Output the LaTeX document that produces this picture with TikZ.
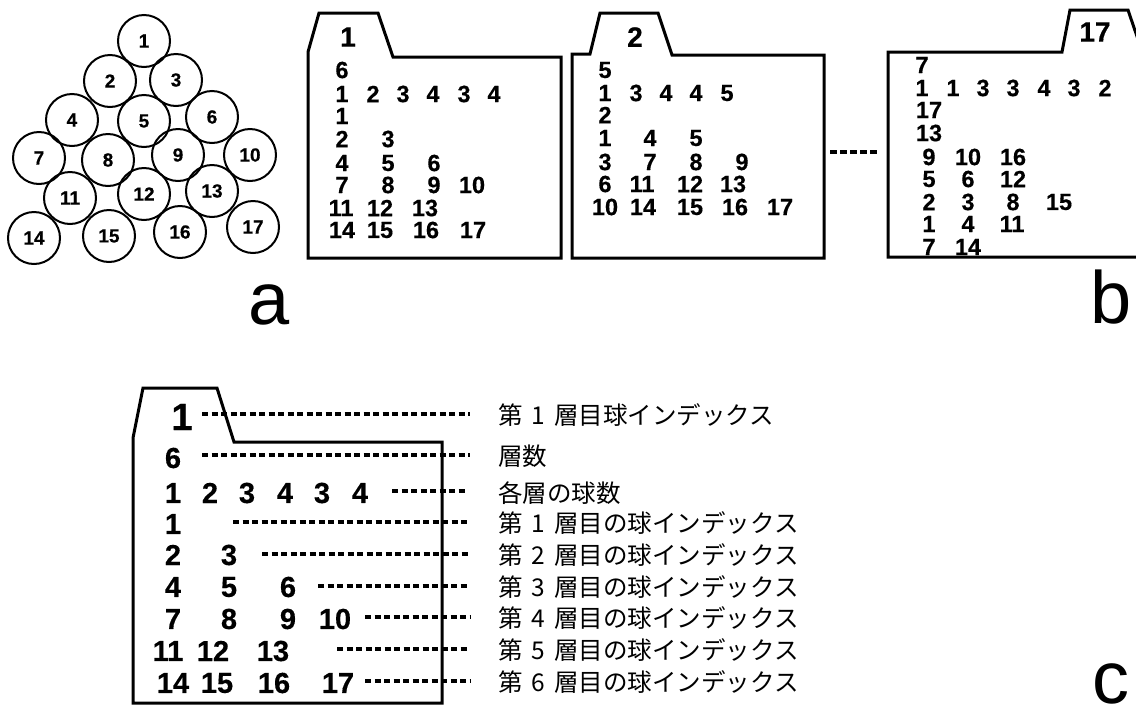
\documentclass[tikz,border=0pt]{standalone}
\usepackage{fontspec}
\setmainfont{Liberation Sans}
\newfontfamily\numfont{Liberation Sans Bold}[FakeBold=0.4]
\newfontfamily\jp{Noto Sans CJK JP}
\newcommand{\jsp}{\hspace{9pt}}
\begin{document}
\begin{tikzpicture}[x=1pt,y=-1pt,
  ball/.style={circle,draw,line width=2pt,minimum size=52pt,inner sep=0pt,font=\numfont\fontsize{19}{19}\selectfont},
  folder/.style={line width=3pt,line join=miter},
  num/.style={inner sep=0pt,font=\numfont\fontsize{23.5}{23.5}\selectfont},
  tabnum/.style={inner sep=0pt,font=\numfont\fontsize{28}{28}\selectfont},
  cnum/.style={inner sep=0pt,font=\numfont\fontsize{29}{29}\selectfont},
  ctab/.style={inner sep=0pt,font=\numfont\fontsize{38}{38}\selectfont},
  jlabel/.style={inner sep=0pt,anchor=west,font=\jp\fontsize{24.5}{24.5}\selectfont},
  dashline/.style={line width=3.6pt,dash pattern=on 6pt off 3.5pt},
  sdash/.style={line width=3.6pt,dash pattern=on 6.5pt off 3.5pt},
  letter/.style={inner sep=0pt,anchor=base,font=\fontsize{74}{74}\selectfont}
]
\useasboundingbox (0,0) rectangle (1136,713);

% ---------- part a ----------
\foreach \n/\x/\y in {1/144/41, 2/110/81, 3/176/80, 4/72/120, 5/144/121, 6/212/117,
  7/39/158, 8/108/160, 9/178/155, 10/250/155, 11/70/198, 12/144/194, 13/212/191,
  14/34/238, 15/109/236, 16/180/232, 17/253/227}
  \node[ball] (c\n) at (\x,\y) {\n};
\node[letter] (la) at (269,324) {a};

% ---------- part b : folder 1 ----------
\draw[folder] (308,258) -- (308,52) -- (319,13) -- (378,13) -- (393,57) -- (561,57) -- (561,258) -- cycle;
\node[tabnum] (fa-t) at (348,37) {1};
\foreach \t/\x/\y [count=\i] in {6/342/70,
  1/342/94, 2/373/94, 3/403/94, 4/433/94, 3/464/94, 4/494/94,
  1/342/116,
  2/342/139, 3/388/139,
  4/342/163, 5/388/163, 6/434/163,
  7/342/185, 8/388/185, 9/434/185, 10/472/185,
  11/341/208, 12/380/208, 13/425/208,
  14/342/230, 15/380/230, 16/426/230, 17/473/230}
  \node[num] (fa\i) at (\x,\y) {\t};

% ---------- part b : folder 2 ----------
\draw[folder] (572,258) -- (572,54) -- (590,54) -- (600,13) -- (658,13) -- (672,55) -- (824,55) -- (824,258) -- cycle;
\node[tabnum] (fb-t) at (635,37) {2};
\foreach \t/\x/\y [count=\i] in {5/605/70,
  1/605/93, 3/636/93, 4/666/93, 4/696/93, 5/727/93,
  2/605/115,
  1/605/138, 4/650/138, 5/696/138,
  3/605/162, 7/650/162, 8/696/162, 9/742/162,
  6/605/184, 11/642/184, 12/690/184, 13/733/184,
  10/605/207, 14/643/207, 15/690/207, 16/735/207, 17/780/207}
  \node[num] (fb\i) at (\x,\y) {\t};

% dotted continuation
\coordinate (gapL) at (830,152);
\coordinate (gapR) at (877,152);
\draw[sdash] (gapL) -- (gapR);

% ---------- part b : folder 17 ----------
\begin{scope}
\clip (0,0) rectangle (1136,713);
\draw[folder] (1160,257) -- (888,257) -- (888,52) -- (1062,52) -- (1070,10) -- (1128,10) -- (1143,54) -- (1160,54);
\end{scope}
\node[tabnum] (fc-t) at (1095,32) {17};
\foreach \t/\x/\y [count=\i] in {7/922/65,
  1/922/88, 1/953/88, 3/983/88, 3/1013/88, 4/1044/88, 3/1074/88, 2/1105/88,
  17/929/110,
  13/929/133,
  9/929/157, 10/968/157, 16/1013/157,
  5/929/179, 6/968/179, 12/1013/179,
  2/929/202, 3/968/202, 8/1013/202, 15/1059/202,
  1/929/224, 4/968/224, 11/1012/224,
  7/929/247, 14/968/247}
  \node[num] (fc\i) at (\x,\y) {\t};
\node[letter] (lb) at (1111,323) {b};

% ---------- part c ----------
\draw[folder] (133,703) -- (133,438) -- (143,388) -- (217,388) -- (234,442) -- (442,442) -- (442,703) -- cycle;
\node[ctab] (ct) at (182,417) {1};
\foreach \t/\x/\y [count=\i] in {6/173/458,
  1/173/493, 2/210/493, 3/247/493, 4/285/493, 3/322/493, 4/360/493,
  1/173/524,
  2/173/555, 3/229/555,
  4/173/587, 5/229/587, 6/288/587,
  7/173/619, 8/229/619, 9/288/619, 10/335/619,
  11/168/651, 12/213/651, 13/273/651,
  14/173/683, 15/217/683, 16/274/683, 17/338/683}
  \node[cnum] (cn\i) at (\x,\y) {\t};

\node[jlabel] (j1) at (498,415) {第\jsp 1\jsp 層目球インデックス};
\node[jlabel] (j2) at (498,456) {層数};
\node[jlabel] (j3) at (498,493) {各層の球数};
\node[jlabel] (j4) at (498,523) {第\jsp 1\jsp 層目の球インデックス};
\node[jlabel] (j5) at (498,555) {第\jsp 2\jsp 層目の球インデックス};
\node[jlabel] (j6) at (498,587) {第\jsp 3\jsp 層目の球インデックス};
\node[jlabel] (j7) at (498,618) {第\jsp 4\jsp 層目の球インデックス};
\node[jlabel] (j8) at (498,650) {第\jsp 5\jsp 層目の球インデックス};
\node[jlabel] (j9) at (498,682) {第\jsp 6\jsp 層目の球インデックス};

\coordinate (dend) at (470,0);
\coordinate (dendb) at (465,0);
\foreach \k/\x/\y in {1/202/414, 2/202/455, 4/233/522, 5/262/554, 6/318/586, 7/365/617, 8/337/649, 9/365/681}{
  \coordinate (ds\k) at (\x,\y);
  \draw[dashline] (ds\k) -- (ds\k -| dend);
}
\coordinate (ds3) at (392,491);
\draw[dashline] (ds3) -- (ds3 -| dendb);

\node[letter] (lc) at (1111,703) {c};
\end{tikzpicture}
\end{document}
